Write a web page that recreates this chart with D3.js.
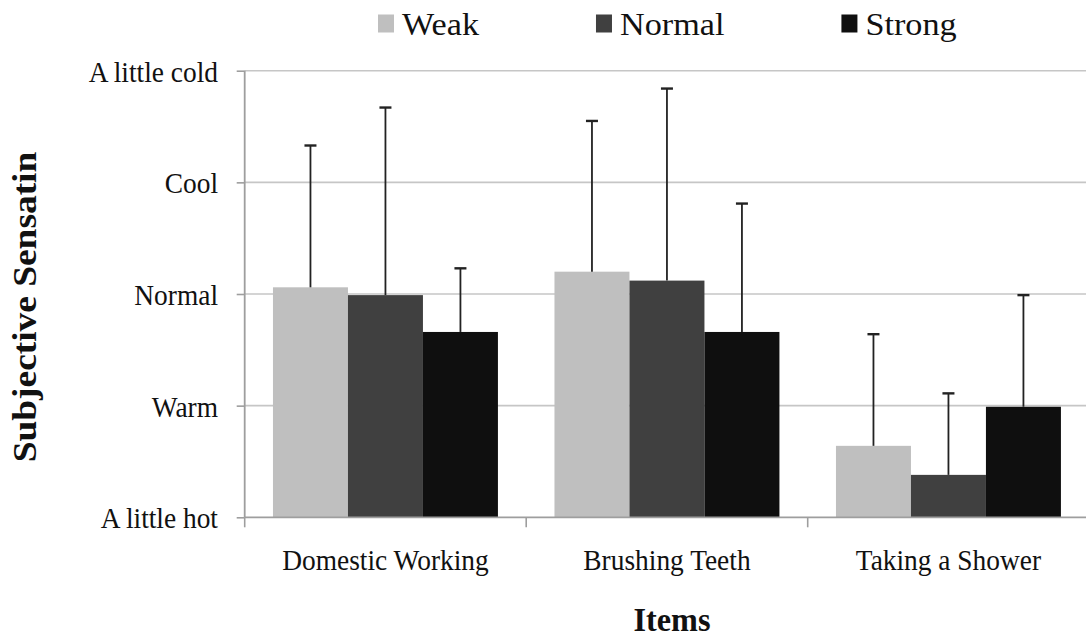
<!DOCTYPE html>
<html>
<head>
<meta charset="utf-8">
<script src="https://cdn.jsdelivr.net/npm/d3@7"></script>
<style>
  html, body { margin: 0; padding: 0; background: #fff; }
  svg { display: block; }
  text { font-family: "Liberation Serif", "Times New Roman", serif; fill: #111; }
</style>
</head>
<body>
<svg id="chart" width="1086" height="640"></svg>
<script>
// Activities on the x axis
const categories = ["Domestic Working", "Brushing Teeth", "Taking a Shower"];
// Stimulus intensity groups
const series = ["Weak", "Normal", "Strong"];
// Mean sensation score (1 = A little hot ... 5 = A little cold)
const weakMeans   = [3.06, 3.20, 1.64];
const normalMeans = [2.99, 3.12, 1.38];
const strongMeans = [2.66, 2.66, 1.99];
// Standard deviations (upper error bars)
const weakSD   = [1.27, 1.35, 1.00];
const normalSD = [1.68, 1.72, 0.73];
const strongSD = [0.57, 1.15, 1.00];
// Y axis tick labels, bottom to top
const tickValues = [1, 2, 3, 4, 5];
const tickLabels = ["A little hot", "Warm", "Normal", "Cool", "A little cold"];

const colors = { Weak: "#bfbfbf", Normal: "#404040", Strong: "#0f0f0f" };
const meansBySeries = { Weak: weakMeans, Normal: normalMeans, Strong: strongMeans };
const sdBySeries = { Weak: weakSD, Normal: normalSD, Strong: strongSD };

const rows = [];
categories.forEach((c, i) => {
  series.forEach(s => rows.push({ cat: c, ser: s, mean: meansBySeries[s][i], sd: sdBySeries[s][i] }));
});

const svg = d3.select("#chart");
const plot = { left: 244.7, right: 1089.2, top: 70.7, bottom: 517.3 };
const STRETCH = 1.1;

const y = d3.scaleLinear().domain([1, 5]).range([plot.bottom, plot.top]);
const x0 = d3.scaleBand().domain(categories).range([plot.left, plot.right]).padding(0);
const x1 = d3.scaleBand().domain(series).range([0, x0.bandwidth()]).paddingInner(0).paddingOuter(0.377);

// Horizontal gridlines
svg.append("g")
  .selectAll("line")
  .data(tickValues.slice(1))
  .join("line")
  .attr("x1", plot.left).attr("x2", plot.right)
  .attr("y1", d => y(d)).attr("y2", d => y(d))
  .attr("stroke", "#c6c6c6").attr("stroke-width", 1.6);

// Bars
svg.append("g")
  .selectAll("rect")
  .data(rows)
  .join("rect")
  .attr("x", d => x0(d.cat) + x1(d.ser))
  .attr("width", x1.bandwidth())
  .attr("y", d => y(d.mean))
  .attr("height", d => y(1) - y(d.mean))
  .attr("fill", d => colors[d.ser]);

// Error bars (upper)
const err = svg.append("g").attr("stroke", "#222").attr("stroke-width", 1.8);
err.selectAll("line.stem")
  .data(rows)
  .join("line")
  .attr("class", "stem")
  .attr("x1", d => x0(d.cat) + x1(d.ser) + x1.bandwidth() / 2)
  .attr("x2", d => x0(d.cat) + x1(d.ser) + x1.bandwidth() / 2)
  .attr("y1", d => y(d.mean))
  .attr("y2", d => y(d.mean + d.sd));
err.selectAll("line.cap")
  .data(rows)
  .join("line")
  .attr("class", "cap")
  .attr("x1", d => x0(d.cat) + x1(d.ser) + x1.bandwidth() / 2 - 6)
  .attr("x2", d => x0(d.cat) + x1(d.ser) + x1.bandwidth() / 2 + 6)
  .attr("y1", d => y(d.mean + d.sd))
  .attr("y2", d => y(d.mean + d.sd))
  .attr("stroke-width", 2.4);

// Y axis
const yAxis = svg.append("g")
  .attr("transform", `translate(${plot.left},0)`)
  .call(d3.axisLeft(y).tickValues(tickValues).tickSize(8).tickFormat(""));
yAxis.select(".domain").attr("stroke", "#9e9e9e").attr("stroke-width", 1.8).attr("d", `M0,${plot.top}V${plot.bottom}`);
yAxis.selectAll(".tick line").attr("stroke", "#9e9e9e").attr("stroke-width", 1.6);

svg.append("g")
  .selectAll("text")
  .data(tickValues)
  .join("text")
  .attr("text-anchor", "end")
  .attr("font-size", 27.4)
  .attr("transform", d => `translate(218,${y(d) + 11}) scale(1,${STRETCH})`)
  .text((d, i) => tickLabels[i]);

// X axis
const xAxis = svg.append("g")
  .attr("transform", `translate(0,${plot.bottom})`);
xAxis.append("line")
  .attr("x1", plot.left).attr("x2", plot.right)
  .attr("y1", 0).attr("y2", 0)
  .attr("stroke", "#9e9e9e").attr("stroke-width", 1.8);
xAxis.selectAll("line.sep")
  .data(categories)
  .join("line")
  .attr("class", "sep")
  .attr("x1", d => x0(d)).attr("x2", d => x0(d))
  .attr("y1", 0).attr("y2", 10)
  .attr("stroke", "#9e9e9e").attr("stroke-width", 1.6);

svg.append("g")
  .selectAll("text")
  .data(categories)
  .join("text")
  .attr("text-anchor", "middle")
  .attr("font-size", 27.4)
  .attr("transform", d => `translate(${x0(d) + x0.bandwidth() / 2},570) scale(1,${STRETCH})`)
  .text(d => d);

// Axis titles
svg.append("text")
  .attr("text-anchor", "middle")
  .attr("font-size", 31)
  .attr("font-weight", "bold")
  .attr("transform", `translate(672,631) scale(1.04,${STRETCH})`)
  .text("Items");

svg.append("text")
  .attr("text-anchor", "middle")
  .attr("font-size", 34)
  .attr("font-weight", "bold")
  .attr("transform", `translate(36,307) rotate(-90) scale(${STRETCH},1)`)
  .text("Subjective Sensatin");

// Legend
const legend = svg.append("g");
let lx = 378;
series.forEach(s => {
  legend.append("rect")
    .attr("x", lx).attr("y", 14.5)
    .attr("width", 16).attr("height", 18)
    .attr("fill", colors[s]);
  const t = legend.append("text")
    .attr("font-size", 28.5)
    .attr("transform", `translate(${lx + 24},35) scale(1.2,${STRETCH})`)
    .text(s);
  const w = t.node().getComputedTextLength() * 1.2;
  lx = lx + 24 + w + 117;
});
</script>
</body>
</html>
